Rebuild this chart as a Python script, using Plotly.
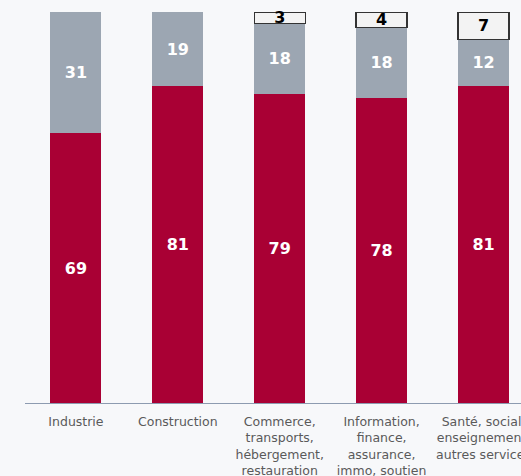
import plotly.graph_objects as go

categories = [
    "Industrie",
    "Construction",
    "Commerce,<br>transports,<br>hébergement,<br>restauration",
    "Information,<br>finance,<br>assurance,<br>immo, soutien",
    "Santé, social,<br>enseignement,<br>autres services",
]
share_main = [69, 81, 79, 78, 81]
share_second = [31, 19, 18, 18, 12]
share_other = [None, None, 3, 4, 7]

RED = "#a90034"
GREY = "#9ca6b2"
BG = "#f7f8fa"

fig = go.Figure()

fig.add_trace(go.Bar(
    x=categories, y=share_main,
    marker=dict(color=RED, line=dict(width=0)),
    text=[str(v) for v in share_main],
    textposition="inside", insidetextanchor="middle", textangle=0,
    textfont=dict(family="DejaVu Sans", size=16, color="white", weight="bold"),
    constraintext="none", cliponaxis=False,
))
fig.add_trace(go.Bar(
    x=categories, y=share_second,
    marker=dict(color=GREY, line=dict(width=0)),
    text=[str(v) for v in share_second],
    textposition="inside", insidetextanchor="middle", textangle=0,
    textfont=dict(family="DejaVu Sans", size=16, color="white", weight="bold"),
    constraintext="none", cliponaxis=False,
))
fig.add_trace(go.Bar(
    x=categories, y=share_other,
    marker=dict(color="#f3f3f3", line=dict(width=1.3, color="#333333")),
    text=["" if v is None else str(v) for v in share_other],
    textposition="inside", insidetextanchor="middle", textangle=0,
    textfont=dict(family="DejaVu Sans", size=16, color="black", weight="bold"),
    constraintext="none", cliponaxis=False,
))

fig.update_layout(
    barmode="stack",
    bargap=0.5,
    width=521, height=476,
    margin=dict(l=25, r=0, t=12, b=73),
    paper_bgcolor=BG, plot_bgcolor=BG,
    showlegend=False,
    xaxis=dict(
        range=[-0.5, 4.368],
        showline=True, linecolor="#8d9bb0", linewidth=1,
        ticks="outside", ticklen=7, tickcolor="rgba(0,0,0,0)",
        showgrid=False, zeroline=False,
        tickfont=dict(family="DejaVu Sans", size=12.5, color="#5a5a5a"),
        ticklabeloverflow="allow",
        automargin=False,
    ),
    yaxis=dict(
        range=[0, 100], visible=False, showgrid=False, zeroline=False,
    ),
)

fig.write_html("out.html")
